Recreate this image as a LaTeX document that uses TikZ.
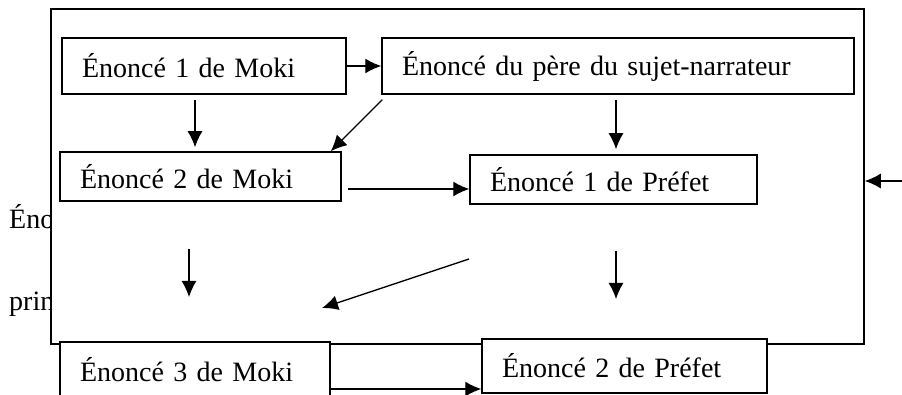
\documentclass[tikz,border=0pt]{standalone}
\usepackage{fontspec}
\setmainfont{Liberation Serif}
\usetikzlibrary{arrows.meta}

\begin{document}
\begin{tikzpicture}[x=1pt,y=-1pt,
  enonce/.style={draw,fill=white,line width=1.5pt,inner xsep=20pt,inner ysep=0pt,align=left,font=\fontsize{28}{32}\selectfont},
  cadre/.style={draw,fill=white,line width=1.5pt,inner sep=0pt},
  fleche/.style={-{Latex[length=16pt,width=15pt]},line width=1.3pt},
  bout/.style={font=\fontsize{28}{32}\selectfont,inner sep=0pt,anchor=base west}]
\useasboundingbox (0,0) rectangle (902,395);
% texte coupe a gauche
\node[bout] (eno) at (9,229) {Éno};
\node[bout] (prin) at (9,310) {prin};
\node[cadre,minimum width=813pt,minimum height=335pt] (cadre) at (457.5,176.5) {};
% les enonces
\node[enonce,text width=244pt,minimum height=56pt] (moki1) at (204,66) {Énoncé 1 de Moki};
\node[enonce,text width=432pt,minimum height=56pt] (pere) at (618,66) {Énoncé du père du sujet-narrateur};
\node[enonce,text width=241pt,minimum height=49pt] (moki2) at (200.5,176.5) {Énoncé 2 de Moki};
\node[enonce,text width=247pt,minimum height=49pt] (prefet1) at (613.5,179.5) {Énoncé 1 de Préfet};
\node[enonce,text width=230pt,minimum height=55pt] (moki3) at (195,369.5) {Énoncé 3 de Moki};
\node[enonce,text width=245pt,minimum height=54pt] (prefet2) at (624.5,366) {Énoncé 2 de Préfet};
% fleches
\draw[fleche] (moki1.east) -- (pere.west);
\draw[fleche] ([xshift=-9pt,yshift=-5pt]moki1.south) -- ([xshift=-9pt,yshift=4pt]moki1.south |- moki2.north);
\draw[fleche] ([xshift=1pt,yshift=-5pt]pere.south west) -- ([xshift=-11pt]moki2.north east);
\draw[fleche] ([xshift=-2pt,yshift=-5pt]pere.south) -- ([xshift=-2pt,yshift=5pt]pere.south |- prefet1.north);
\draw[fleche] ([xshift=6pt,yshift=-12.5pt]moki2.east) -- ([yshift=-12.5pt]moki2.east -| prefet1.west);
\coordinate (entree) at (902,181);
\draw[fleche] (entree) -- (entree -| cadre.east);
\coordinate (a1) at (189,249);
\coordinate (a2) at (189,297);
\draw[fleche] (a1) -- (a2);
\coordinate (b1) at (469,259);
\coordinate (b2) at (322,308);
\draw[fleche] (b1) -- (b2);
\coordinate (c1) at (616,251);
\coordinate (c2) at (616,299);
\draw[fleche] (c1) -- (c2);
\draw[fleche] ([yshift=-19.5pt]moki3.east) -- ([yshift=-19.5pt]moki3.east -| prefet2.west);
\end{tikzpicture}
\end{document}
